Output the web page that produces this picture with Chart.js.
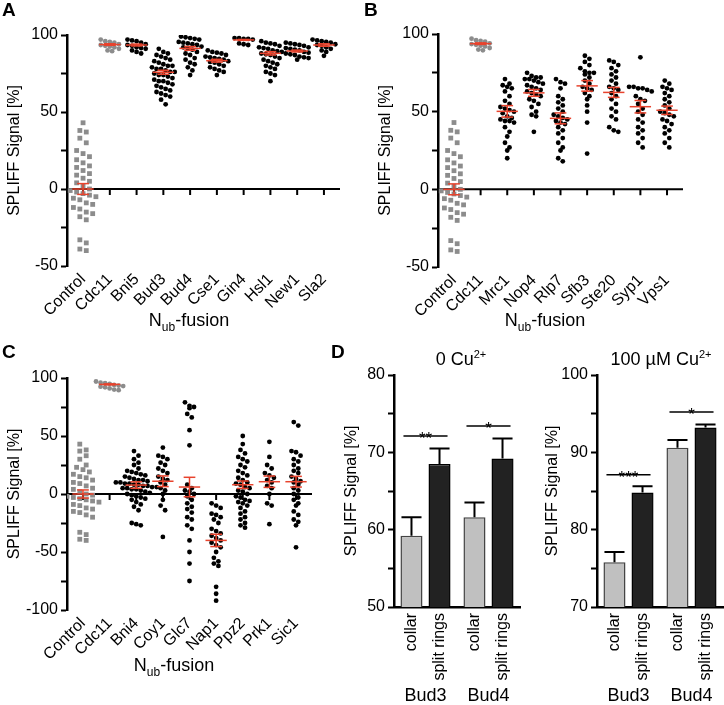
<!DOCTYPE html>
<html>
<head>
<meta charset="utf-8">
<script src="https://cdn.jsdelivr.net/npm/chart.js@4.4.1/dist/chart.umd.min.js"></script>
<style>
body { margin: 0; background: #fff; }
#fig { position: relative; width: 724px; height: 705px; font-family: "Liberation Sans", Arial, sans-serif; color: #000; overflow: hidden; }
canvas { position: absolute; }
.t { position: absolute; white-space: nowrap; line-height: 1; }
.letter { font-weight: bold; font-size: 19px; }
.xt { font-size: 18px; transform: translateX(-50%); }
.xt sub { font-size: 12px; vertical-align: -5px; line-height: 0; }
.ttl sup { font-size: 11px; vertical-align: 7px; line-height: 0; }
</style>
</head>
<body>
<div id="fig">
  <canvas id="chartA" width="362" height="340" style="left:0;top:0"></canvas>
  <canvas id="chartB" width="362" height="340" style="left:362px;top:0"></canvas>
  <canvas id="chartC" width="330" height="365" style="left:0;top:340px"></canvas>
  <canvas id="chartD0" width="200" height="365" style="left:330px;top:340px"></canvas>
  <canvas id="chartD100" width="194" height="365" style="left:530px;top:340px"></canvas>

  <div class="t letter" style="left:2px;top:0">A</div>
  <div class="t letter" style="left:364px;top:0">B</div>
  <div class="t letter" style="left:2px;top:342px">C</div>
  <div class="t letter" style="left:331px;top:342px">D</div>

  <div class="t xt" style="left:189px;top:311px">N<sub>ub</sub>-fusion</div>
  <div class="t xt" style="left:545px;top:311px">N<sub>ub</sub>-fusion</div>
  <div class="t xt" style="left:174px;top:656px">N<sub>ub</sub>-fusion</div>

  <div class="t xt ttl" style="left:461px;top:350px">0 Cu<sup>2+</sup></div>
  <div class="t xt ttl" style="left:661px;top:350px">100 µM Cu<sup>2+</sup></div>
</div>

<script>
// shared groups
var controlValues = [43, 38, 37, 33, 30, 25, 23, 21, 19, 17, 15, 14, 12, 10, 9, 7, 5, 4, 2, 0, -1, -2, -3, -4, -5, -6, -7, -9, -10, -12, -13, -15, -16, -18, -20, -33, -35, -39, -40];
var cdc11Values = [97, 96, 95.5, 95, 94, 93.5, 93, 92.5, 92, 91, 90, 89.5];

// panel A
var aCategories = ['Control', 'Cdc11', 'Bni5', 'Bud3', 'Bud4', 'Cse1', 'Gin4', 'Hsl1', 'New1', 'Sla2'];
var bni5Values = [97, 96.5, 96, 95, 94, 93.5, 93, 92, 91.5, 91, 90, 89, 88];
var bud3Values = [91, 89, 88, 87, 86, 85, 84, 83, 82, 81, 80, 80, 79, 78, 78, 77, 76, 76, 75, 74, 74, 73, 72, 71, 70, 70, 69, 68, 67, 66, 65, 64, 63, 62, 61, 60, 58, 55];
var bud4Values = [99, 98.5, 98, 97.5, 97, 95.5, 95, 94.5, 94, 93.5, 92.5, 92, 91, 90.5, 89, 88, 87, 85, 84, 82, 81, 79, 77, 74];
var cse1Values = [90, 89, 88.5, 88, 87, 86, 85.5, 85, 84.5, 84, 83, 82.5, 82, 81, 80, 79, 78, 77, 76, 74];
var gin4Values = [98, 98, 97.5, 97.5, 97, 94.5, 94, 93.5];
var hsl1Values = [96, 95, 94.5, 94, 93, 92, 91.5, 91, 90, 89.5, 89, 88, 87.5, 87, 86, 85, 84, 83, 82, 81, 80, 79, 78, 76, 75, 74, 70];
var new1Values = [95, 94.5, 94, 93.5, 93, 92, 91.5, 91, 90.5, 90, 89, 88.5, 88, 87.5, 87, 86, 85.5, 85, 84];
var sla2Values = [97, 96.5, 96, 95.5, 95, 94, 93.5, 93, 92, 91, 90, 89, 86.5];
var aMeans = [0, 93.8, 93.5, 75.8, 91.3, 83.3, 96.8, 88.1, 89.6, 93.5];
var aSems = [3.5, 0.5, 0.6, 1.3, 1.2, 0.9, 0.3, 1.1, 0.6, 0.8];

// panel B
var bCategories = ['Control', 'Cdc11', 'Mrc1', 'Nop4', 'Rlp7', 'Sfb3', 'Ste20', 'Syp1', 'Vps1'];
var mrc1Values = [71, 68, 67, 66, 65, 63, 60, 57, 55, 53, 52, 51, 50, 49, 47, 46, 45, 44, 44, 43, 40, 37, 34, 30, 27, 25, 20];
var nop4Values = [75, 73, 72, 72, 71, 71, 70, 69, 68, 67, 66, 65, 64, 63, 62, 61, 60, 58, 57, 55, 53, 50, 48, 47, 37];
var rlp7Values = [71, 69, 68, 65, 60, 58, 56, 54, 52, 50, 48, 47, 46, 45, 44, 43, 42, 40, 38, 36, 33, 30, 27, 25, 20, 18];
var sfb3Values = [86, 84, 82, 80, 78, 76, 75, 75, 74, 72, 70, 68, 66, 65, 64, 62, 60, 58, 54, 50, 43, 23];
var ste20Values = [83, 82, 80, 78, 76, 74, 72, 70, 68, 66, 65, 64, 62, 60, 58, 55, 52, 50, 47, 45, 40, 38, 37];
var syp1Values = [85, 66, 66, 65, 65, 64, 63, 60, 58, 57, 55, 52, 50, 48, 45, 43, 40, 38, 36, 33, 30, 27];
var vps1Values = [70, 68, 66, 65, 64, 62, 60, 58, 56, 54, 52, 50, 49, 48, 47, 45, 44, 42, 40, 38, 36, 33, 30, 27];
var bMeans = [0, 93.8, 50.2, 62.1, 45.7, 66.6, 62.4, 53.2, 50.9];
var bSems = [3.5, 0.5, 3.7, 2.2, 3.5, 3.4, 3.2, 4, 2.7];

// panel C
var cCategories = ['Control', 'Cdc11', 'Bni4', 'Coy1', 'Glc7', 'Nap1', 'Ppz2', 'Prk1', 'Sic1'];
var bni4Values = [37, 33, 30, 27, 25, 22, 20, 19, 18, 17, 16, 15, 14, 13, 12, 12, 11, 10, 10, 9, 9, 8, 8, 7, 7, 6, 6, 5, 5, 4, 4, 3, 2, 1, 0, -1, -2, -3, -4, -5, -7, -9, -11, -14, -25, -26, -27];
var coy1Values = [40, 33, 32, 30, 27, 25, 22, 20, 18, 15, 13, 12, 10, 8, 5, 3, 0, -5, -10, -14, -37];
var glc7Values = [79, 76, 75, 74, 69, 66, 55, 42, 8, 5, 3, 2, 0, -2, -5, -8, -11, -13, -16, -20, -22, -27, -30, -40, -50, -60, -75];
var nap1Values = [-8, -10, -12, -17, -18, -20, -22, -25, -30, -32, -34, -36, -38, -40, -42, -44, -46, -50, -55, -58, -60, -62, -80, -86, -92];
var ppz2Values = [50, 43, 38, 35, 32, 30, 28, 25, 23, 20, 18, 16, 14, 12, 10, 9, 8, 6, 5, 3, 2, 0, -2, -3, -5, -6, -7, -8, -10, -12, -15, -17, -20, -22, -25, -27, -29];
var prk1Values = [45, 32, 25, 22, 18, 16, 14, 12, 10, 7, 5, 0, -8, -10, -26];
var sic1Values = [62, 59, 37, 36, 33, 30, 28, 25, 22, 20, 18, 15, 13, 11, 10, 8, 5, 3, 0, -3, -5, -8, -10, -15, -18, -22, -24, -27, -46];
var cMeans = [0, 94.5, 7.7, 11, 6, -40, 8, 10.6, 10.6];
var cSems = [3.5, 0.4, 2.8, 4.6, 8.4, 5.3, 3.2, 4.9, 4.6];

// panel D
var dGroups = ['Bud3', 'Bud4'];
var dSeries = ['collar', 'split rings'];
var cu0Collar = [59.2, 61.6];
var cu0Split = [68.5, 69.2];
var cu0CollarSem = [2.4, 1.9];
var cu0SplitSem = [2.0, 2.6];
var cu0SigY = [72.1, 73.4];
var cu0SigText = ['**', '*'];
var cu100Collar = [75.8, 90.6];
var cu100Split = [84.8, 93.2];
var cu100CollarSem = [1.3, 1.0];
var cu100SplitSem = [0.8, 0.4];
var cu100SigY = [87.1, 95.2];
var cu100SigText = ['***', '*'];

Chart.defaults.font.family = '"Liberation Sans", Arial, sans-serif';
Chart.defaults.color = '#000';

// prism-like scatter: rows of near-equal values spread sideways
function swarm(vals, center, bin, dx) {
    var sorted = vals.slice().sort(function (a, b) { return b - a; });
    var rows = [];
    sorted.forEach(function (v) {
        var row = rows[rows.length - 1];
        if (row && row[0] - v < bin) row.push(v); else rows.push([v]);
    });
    var pts = [];
    rows.forEach(function (row) {
        row.forEach(function (v, k) {
            pts.push({ x: center + (k - (row.length - 1) / 2) * dx, y: v });
        });
    });
    return pts;
}

var zeroAxis = {
    id: 'zeroAxis',
    beforeDatasetsDraw: function (chart) {
        var ctx = chart.ctx, area = chart.chartArea, x = chart.scales.x, y = chart.scales.y;
        var y0 = y.getPixelForValue(0);
        ctx.save();
        ctx.strokeStyle = '#000';
        ctx.lineWidth = 2;
        ctx.beginPath();
        ctx.moveTo(area.left, y0);
        ctx.lineTo(area.right, y0);
        x.ticks.forEach(function (t) {
            var px = x.getPixelForValue(t.value);
            ctx.moveTo(px, y0);
            ctx.lineTo(px, y0 + 6);
        });
        ctx.stroke();
        ctx.restore();
    }
};

var meanSem = {
    id: 'meanSem',
    afterDatasetsDraw: function (chart, args, o) {
        var ctx = chart.ctx, x = chart.scales.x, y = chart.scales.y;
        function seg(x0, y0, x1, y1) {
            ctx.beginPath();
            ctx.moveTo(x.getPixelForValue(x0), y.getPixelForValue(y0));
            ctx.lineTo(x.getPixelForValue(x1), y.getPixelForValue(y1));
            ctx.stroke();
        }
        ctx.save();
        ctx.strokeStyle = '#e8432d';
        ctx.lineWidth = 1.5;
        o.means.forEach(function (m, i) {
            var s = o.sems[i];
            seg(i - 0.4, m, i + 0.4, m);
            seg(i, m - s, i, m + s);
            seg(i - 0.22, m + s, i + 0.22, m + s);
            seg(i - 0.22, m - s, i + 0.22, m - s);
        });
        ctx.restore();
    }
};

function dotPanel(id, cats, groups, means, sems, yMin, yMax, lay) {
    var datasets = groups.map(function (vals, i) {
        return {
            data: i === 0 ? swarm(vals, i, lay.ctlBin, 0.24) : swarm(vals, i, lay.bin, 0.17),
            pointStyle: i === 0 ? 'rect' : 'circle',
            pointRadius: i === 0 ? 3.4 : 2.4,
            backgroundColor: i < 2 ? '#8c8c8c' : '#000',
            borderWidth: 0
        };
    });
    new Chart(document.getElementById(id), {
        type: 'scatter',
        data: { datasets: datasets },
        options: {
            responsive: false,
            animation: false,
            layout: { padding: lay.pad },
            plugins: {
                legend: { display: false },
                tooltip: { enabled: false },
                meanSem: { means: means, sems: sems }
            },
            scales: {
                x: {
                    type: 'linear',
                    min: -0.6,
                    max: cats.length - 0.4,
                    afterBuildTicks: function (s) { s.ticks = cats.map(function (c, i) { return { value: i }; }); },
                    afterFit: function (s) { s.height = lay.xh; },
                    grid: { display: false, drawTicks: false },
                    border: { display: false },
                    ticks: {
                        autoSkip: false, minRotation: 45, maxRotation: 45, padding: 4,
                        font: { size: 16 },
                        callback: function (v, i) { return cats[i]; }
                    }
                },
                y: {
                    min: yMin,
                    max: yMax,
                    afterBuildTicks: function (s) {
                        var t = [];
                        for (var v = yMin; v <= yMax; v += 25) t.push({ value: v });
                        s.ticks = t;
                    },
                    afterFit: function (s) { s.width = lay.yw; },
                    grid: { drawOnChartArea: false, tickLength: 6, tickColor: '#000', tickWidth: 2 },
                    border: { color: '#000', width: 2.5 },
                    ticks: { padding: 3, font: { size: 16 }, callback: function (v) { return v % 50 === 0 ? v : ''; } },
                    title: { display: true, text: 'SPLIFF Signal [%]', font: { size: 16 }, padding: { top: 4, bottom: 0 } }
                }
            }
        },
        plugins: [zeroAxis, meanSem]
    });
}

var barExtras = {
    id: 'barExtras',
    afterDatasetsDraw: function (chart, args, o) {
        var ctx = chart.ctx, area = chart.chartArea, y = chart.scales.y;
        ctx.save();
        ctx.strokeStyle = '#000';
        ctx.fillStyle = '#000';
        ctx.lineWidth = 2;
        chart.data.datasets.forEach(function (ds, i) {
            chart.getDatasetMeta(i).data.forEach(function (bar, j) {
                var top = y.getPixelForValue(ds.data[j] + o.sems[i][j]);
                var half = bar.width / 2 - 1;
                ctx.beginPath();
                ctx.moveTo(bar.x, bar.y);
                ctx.lineTo(bar.x, top);
                ctx.moveTo(bar.x - half, top);
                ctx.lineTo(bar.x + half, top);
                ctx.stroke();
                ctx.save();
                ctx.translate(bar.x, area.bottom + 6);
                ctx.rotate(-Math.PI / 2);
                ctx.font = '16px "Liberation Sans", Arial, sans-serif';
                ctx.textAlign = 'right';
                ctx.textBaseline = 'middle';
                ctx.fillText(ds.label, 0, 0);
                ctx.restore();
            });
        });
        var m0 = chart.getDatasetMeta(0).data, m1 = chart.getDatasetMeta(1).data;
        ctx.lineWidth = 1.5;
        ctx.textAlign = 'center';
        o.sigY.forEach(function (v, j) {
            var x0 = m0[j].x - m0[j].width / 2 + 3, x1 = m1[j].x + m1[j].width / 2 - 3;
            var py = y.getPixelForValue(v);
            ctx.beginPath();
            ctx.moveTo(x0, py);
            ctx.lineTo(x1, py);
            ctx.stroke();
            ctx.font = '17px "Liberation Sans", Arial, sans-serif';
            ctx.textBaseline = 'alphabetic';
            ctx.fillText(o.sigText[j], (x0 + x1) / 2, py + 8);
            // group name under the rotated bar labels
            ctx.font = '18px "Liberation Sans", Arial, sans-serif';
            ctx.textBaseline = 'bottom';
            ctx.fillText(chart.data.labels[j], (m0[j].x + m1[j].x) / 2, chart.height);
        });
        ctx.restore();
    }
};

function barPanel(id, collar, split, collarSem, splitSem, sigY, sigText, yMin, yMax, lay) {
    new Chart(document.getElementById(id), {
        type: 'bar',
        data: {
            labels: dGroups,
            datasets: [
                { label: dSeries[0], data: collar, backgroundColor: '#c0c0c0', borderColor: '#444', borderWidth: 1.5 },
                { label: dSeries[1], data: split, backgroundColor: '#222', borderColor: '#000', borderWidth: 1.5 }
            ]
        },
        options: {
            responsive: false,
            animation: false,
            categoryPercentage: 0.89,
            barPercentage: 0.786,
            layout: { padding: lay.pad },
            plugins: {
                legend: { display: false },
                tooltip: { enabled: false },
                barExtras: { sems: [collarSem, splitSem], sigY: sigY, sigText: sigText }
            },
            scales: {
                x: {
                    afterFit: function (s) { s.height = lay.xh; },
                    grid: { display: false, drawTicks: false },
                    border: { color: '#000', width: 2.5 },
                    ticks: { display: false }
                },
                y: {
                    min: yMin,
                    max: yMax,
                    afterBuildTicks: function (s) {
                        var t = [];
                        for (var v = yMin; v <= yMax; v += 5) t.push({ value: v });
                        s.ticks = t;
                    },
                    afterFit: function (s) { s.width = lay.yw; },
                    grid: { drawOnChartArea: false, tickLength: 6, tickColor: '#000', tickWidth: 2 },
                    border: { color: '#000', width: 2.5 },
                    ticks: { padding: 3, font: { size: 16 }, callback: function (v) { return v % 10 === 0 ? v : ''; } },
                    title: { display: true, text: 'SPLIFF Signal [%]', font: { size: 16 }, padding: { top: 4, bottom: 0 } }
                }
            }
        },
        plugins: [barExtras]
    });
}

dotPanel('chartA', aCategories,
    [controlValues, cdc11Values, bni5Values, bud3Values, bud4Values, cse1Values, gin4Values, hsl1Values, new1Values, sla2Values],
    aMeans, aSems, -50, 100,
    { pad: { left: 1, top: 35, right: 22, bottom: 0 }, yw: 66, xh: 74, bin: 3.2, ctlBin: 4.5 });

dotPanel('chartB', bCategories,
    [controlValues, cdc11Values, mrc1Values, nop4Values, rlp7Values, sfb3Values, ste20Values, syp1Values, vps1Values],
    bMeans, bSems, -50, 100,
    { pad: { left: 10, top: 34, right: 41, bottom: 0 }, yw: 66, xh: 73, bin: 3.2, ctlBin: 4.5 });

dotPanel('chartC', cCategories,
    [controlValues, cdc11Values, bni4Values, coy1Values, glc7Values, nap1Values, ppz2Values, prk1Values, sic1Values],
    cMeans, cSems, -100, 100,
    { pad: { left: 1, top: 38, right: 18, bottom: 0 }, yw: 66, xh: 95, bin: 4.3, ctlBin: 5.5 });

barPanel('chartD0', cu0Collar, cu0Split, cu0CollarSem, cu0SplitSem, cu0SigY, cu0SigText, 50, 80,
    { pad: { left: 8, top: 35, right: 10, bottom: 0 }, yw: 56, xh: 98 });

barPanel('chartD100', cu100Collar, cu100Split, cu100CollarSem, cu100SplitSem, cu100SigY, cu100SigText, 70, 100,
    { pad: { left: 9, top: 35, right: 1, bottom: 0 }, yw: 58, xh: 98 });
</script>
</body>
</html>
